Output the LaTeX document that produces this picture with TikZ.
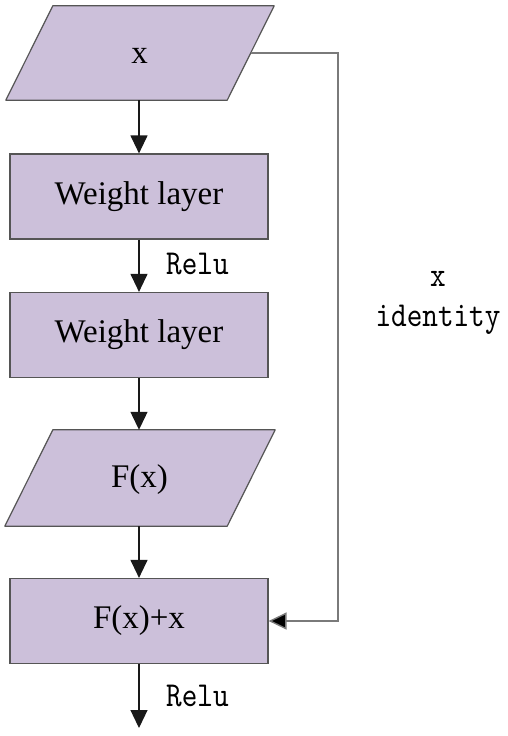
\documentclass[tikz,border=0pt]{standalone}
\usepackage{fontspec}
\setmainfont{Liberation Serif}
\newfontfamily\relufont{lmmono10-regular.otf}[FakeStretch=0.85]
\usetikzlibrary{arrows.meta}
\definecolor{boxfill}{HTML}{CCC0DA}
\definecolor{boxdraw}{HTML}{555555}
\definecolor{skipline}{HTML}{7A7A7A}
\begin{document}
\begin{tikzpicture}[x=1pt,y=-1pt,
  layerbox/.style={draw=boxdraw,fill=boxfill,line width=1.2pt,minimum width=258pt,minimum height=85pt,inner sep=0pt,
    font=\fontsize{33}{36}\selectfont},
  databody/.style={minimum width=174pt,minimum height=#1,inner sep=0pt,
    font=\fontsize{33}{36}\selectfont},
  dataframe/.style={draw=boxdraw,fill=boxfill,line width=1.2pt,line join=round},
  flow/.style={draw=black!90,line width=1.2pt,-{Triangle[width=17pt,length=18pt]}},
  skip/.style={draw=skipline,line width=1.4pt,-{Triangle[width=17pt,length=18pt,fill=black]}},
  lab/.style={font=\relufont\fontsize{35}{40}\selectfont,inner sep=0pt}]
\useasboundingbox (0,0) rectangle (508,736);
% input x
\node[databody=94pt] (x) at (140,53) {};
\draw[dataframe] ([xshift=-47pt]x.south west) -- (x.south east) -- ([xshift=47pt]x.north east) -- (x.north west) -- cycle;
\node[inner sep=0pt,font=\fontsize{33}{36}\selectfont] (xt) at (139.5,55.5) {x};
\coordinate (xr) at ([xshift=23.5pt]x.east);
% layers
\node[layerbox] (w1) at (139,196.5) {Weight layer};
\node[layerbox] (w2) at (139,335) {Weight layer};
% F(x)
\node[databody=96pt] (fx) at (140,478) {};
\draw[dataframe] ([xshift=-48pt]fx.south west) -- (fx.south east) -- ([xshift=48pt]fx.north east) -- (fx.north west) -- cycle;
\node[inner sep=0pt,font=\fontsize{33}{36}\selectfont] (fxt) at (139.5,479.5) {F(x)};
\node[layerbox] (sum) at (139,621) {F(x)+x};
\coordinate (out) at (139,728);
% connectors
\draw[flow] (x.south -| w1.north) -- (w1.north);
\draw[flow] (w1) -- (w2);
\draw[flow] (w2.south) -- (w2.south |- fx.north);
\draw[flow] (fx.south -| sum.north) -- (sum.north);
\draw[flow] (sum.south) -- (out);
\draw[skip] (xr) -- (338,53) |- (sum.east);
% labels
\node[lab,anchor=west] (r1) at (166,264) {Relu};
\node[lab,anchor=west] (r2) at (166,696) {Relu};
\node[lab,align=center] (id) at (438,303) {x\\identity};
\end{tikzpicture}
\end{document}
